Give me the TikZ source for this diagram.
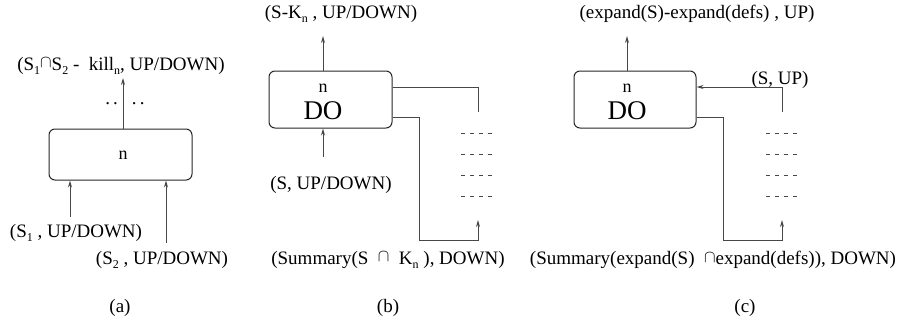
\documentclass[tikz,border=0pt]{standalone}
\usepackage{fontspec}
\setmainfont{Liberation Serif}
\usetikzlibrary{arrows.meta}
\newcommand{\lsub}[1]{\raisebox{-0.5ex}{\fontsize{12}{12}\selectfont #1}}
\newcommand{\capsym}{\raisebox{0.3ex}{$\cap$}}
\begin{document}
\begin{tikzpicture}[x=1pt,y=-1pt, line width=1pt,
  conn/.style={draw=black!72},
  arr/.style={conn,-{Stealth[length=7pt,width=4pt]}},
  box/.style={draw=black!85, rounded corners=6pt, inner sep=0pt},
  lbl/.style={font=\fontsize{19}{22}\selectfont, inner sep=0pt, anchor=center},
  dsh/.style={draw=black!72, dash pattern=on 4pt off 5pt}]
\useasboundingbox (0,0) rectangle (914,327);

% ---------- (a) ----------
\node[box, minimum width=143pt, minimum height=51pt] (boxa) at (120.5,154.5) {};
\node[lbl, font=\fontsize{18}{20}\selectfont] (na) at (123,155) {n};
\node[lbl] (ta) at (121,66) {(S\lsub{1}\capsym S\lsub{2} -\ \ kill\lsub{n}, UP/DOWN)};
\node[lbl] (la1) at (76,233) {(S\lsub{1} , UP/DOWN)};
\node[lbl] (la2) at (162,260) {(S\lsub{2} , UP/DOWN)};
\node[lbl] (dotsa) at (125,104) {.\,.\hspace{14pt}.\,.};
\coordinate (a1) at (70,217);
\coordinate (a2) at (166,243);
\coordinate (aout) at (123,78);
\draw[arr] (a1) -- (a1 |- boxa.south);
\draw[arr] (a2) -- (a2 |- boxa.south);
\draw[arr] (aout |- boxa.north) -- (aout);
\node[lbl] (capa) at (120,308) {(a)};

% ---------- (b) ----------
\node[box, minimum width=123pt, minimum height=57pt] (boxb) at (330.5,99.5) {};
\node[lbl, font=\fontsize{18}{20}\selectfont] (nb) at (323,88) {n};
\node[lbl, font=\fontsize{27}{30}\selectfont] (dob) at (323,111) {DO};
\node[lbl] (tb) at (341,14) {(S-K\lsub{n} , UP/DOWN)};
\node[lbl] (inb) at (331,185) {(S, UP/DOWN)};
\node[lbl] (sumb) at (388,260) {(Summary(S \ \capsym\ \ K\lsub{n} ), DOWN)};
\coordinate (bout) at (323,36);
\coordinate (bin) at (323,157);
\coordinate (bst) at (478,112);
\coordinate (bturn) at (419,240);
\coordinate (bsb) at (478,220);
\draw[arr] (bout |- boxb.north) -- (bout);
\draw[arr] (bin) -- (bin |- boxb.south);
\draw[conn] ([yshift=12.5pt]boxb.east) -| (bst);
\draw[arr] ([yshift=-17.5pt]boxb.east) -| (bturn) -| (bsb);
\foreach \yy in {133,154,175,196} \draw[dsh] (461,\yy) -- (494,\yy);
\node[lbl] (capb) at (388,308) {(b)};

% ---------- (c) ----------
\node[box, minimum width=122pt, minimum height=57pt] (boxc) at (635,99.5) {};
\node[lbl, font=\fontsize{18}{20}\selectfont] (nc) at (627,88) {n};
\node[lbl, font=\fontsize{27}{30}\selectfont] (doc) at (627,111) {DO};
\node[lbl] (tc) at (697,14) {(expand(S)-expand(defs) , UP)};
\node[lbl] (sup) at (780,80) {(S, UP)};
\node[lbl] (sumc) at (713,260) {(Summary(expand(S) \ \capsym expand(defs)), DOWN)};
\coordinate (cout) at (627,36);
\coordinate (cst) at (782,112);
\coordinate (cturn) at (723,240);
\coordinate (csb) at (782,220);
\draw[arr] (cout |- boxc.north) -- (cout);
\draw[arr] (cst) |- ([yshift=12.5pt]boxc.east);
\draw[arr] ([yshift=-17.5pt]boxc.east) -| (cturn) -| (csb);
\foreach \yy in {133,154,175,196} \draw[dsh] (766,\yy) -- (797,\yy);
\node[lbl] (capc) at (745,308) {(c)};
\end{tikzpicture}
\end{document}
